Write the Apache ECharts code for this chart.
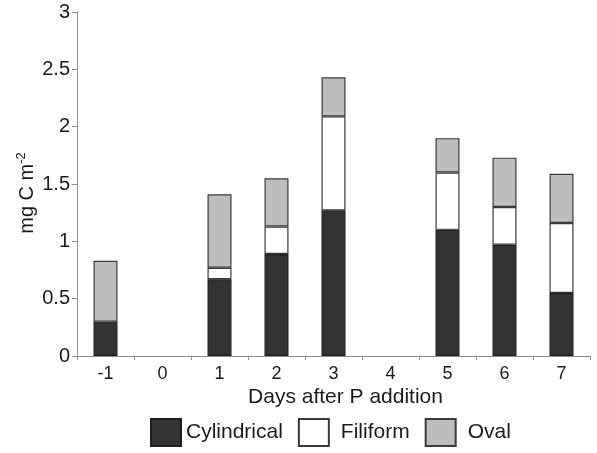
<!DOCTYPE html>
<html>
<head>
<meta charset="utf-8">
<script src="https://cdn.jsdelivr.net/npm/echarts@6/dist/echarts.min.js"></script>
<style>
html,body{margin:0;padding:0;background:#fff;}
#c{width:597px;height:453px;}
</style>
</head>
<body>
<div id="c"></div>
<script>
var categories = ['-1', '0', '1', '2', '3', '4', '5', '6', '7'];
var cylindrical = [0.30, null, 0.67, 0.89, 1.27, null, 1.10, 0.97, 0.55];
var filiform = [null, null, 0.10, 0.24, 0.82, null, 0.50, 0.33, 0.61];
var oval = [0.53, null, 0.64, 0.42, 0.34, null, 0.30, 0.43, 0.43];

var FONT = '"Liberation Sans", Arial, Helvetica, sans-serif';
var chart = echarts.init(document.getElementById('c'), null, {renderer: 'canvas'});

function barSeries(name, data, color, border) {
  return {
    name: name,
    type: 'bar',
    stack: 'total',
    data: data,
    barWidth: 24,
    itemStyle: {color: color, borderColor: border, borderWidth: 1.2},
    emphasis: {disabled: true}
  };
}

chart.setOption({
  animation: false,
  textStyle: {fontFamily: FONT},
  grid: {left: 77, right: 7, top: 12, bottom: 97, containLabel: false},
  legend: {
    bottom: 1,
    left: 145,
    itemWidth: 30,
    itemHeight: 27,
    itemGap: 15,
    icon: 'rect',
    formatter: function (name) {
      return name === 'Cylindrical' ? name : '{s|}' + name;
    },
    textStyle: {
      fontSize: 21, color: '#1a1a1a', fontFamily: FONT,
      rich: {s: {width: 7}}
    },
    data: ['Cylindrical', 'Filiform', 'Oval']
  },
  xAxis: {
    type: 'category',
    data: categories,
    name: 'Days after P addition',
    nameLocation: 'middle',
    nameGap: 31,
    nameMoveOverlap: false,
    nameTextStyle: {fontSize: 21, color: '#1a1a1a', fontFamily: FONT, padding: [0, 0, 0, 24]},
    axisLine: {lineStyle: {color: '#8c8c8c', width: 1}},
    axisTick: {show: true, alignWithLabel: false, length: 4, lineStyle: {color: '#8c8c8c'}},
    axisLabel: {fontSize: 18, color: '#1a1a1a', margin: 9, fontFamily: FONT},
    splitLine: {show: false}
  },
  yAxis: {
    type: 'value',
    min: 0,
    max: 3,
    interval: 0.5,
    name: '{a|mg C m}{b|-2}',
    nameLocation: 'middle',
    nameGap: 40,
    nameMoveOverlap: false,
    nameRotate: 90,
    nameTextStyle: {
      color: '#1a1a1a',
      fontFamily: FONT,
      padding: [0, 18, 0, 0],
      rich: {
        a: {fontSize: 20, color: '#1a1a1a', fontFamily: FONT, lineHeight: 22, verticalAlign: 'bottom'},
        b: {fontSize: 13, color: '#1a1a1a', fontFamily: FONT, lineHeight: 22, verticalAlign: 'top', padding: [0, 0, 10, 0]}
      }
    },
    axisLine: {show: true, lineStyle: {color: '#8c8c8c', width: 1}},
    axisTick: {show: true, length: 5, lineStyle: {color: '#8c8c8c'}},
    axisLabel: {fontSize: 20, color: '#1a1a1a', margin: 7, fontFamily: FONT},
    splitLine: {show: false}
  },
  series: [
    barSeries('Cylindrical', cylindrical, '#333333', '#1f1f1f'),
    barSeries('Filiform', filiform, '#ffffff', '#3a3a3a'),
    barSeries('Oval', oval, '#bdbdbd', '#3a3a3a')
  ]
});
</script>
</body>
</html>
